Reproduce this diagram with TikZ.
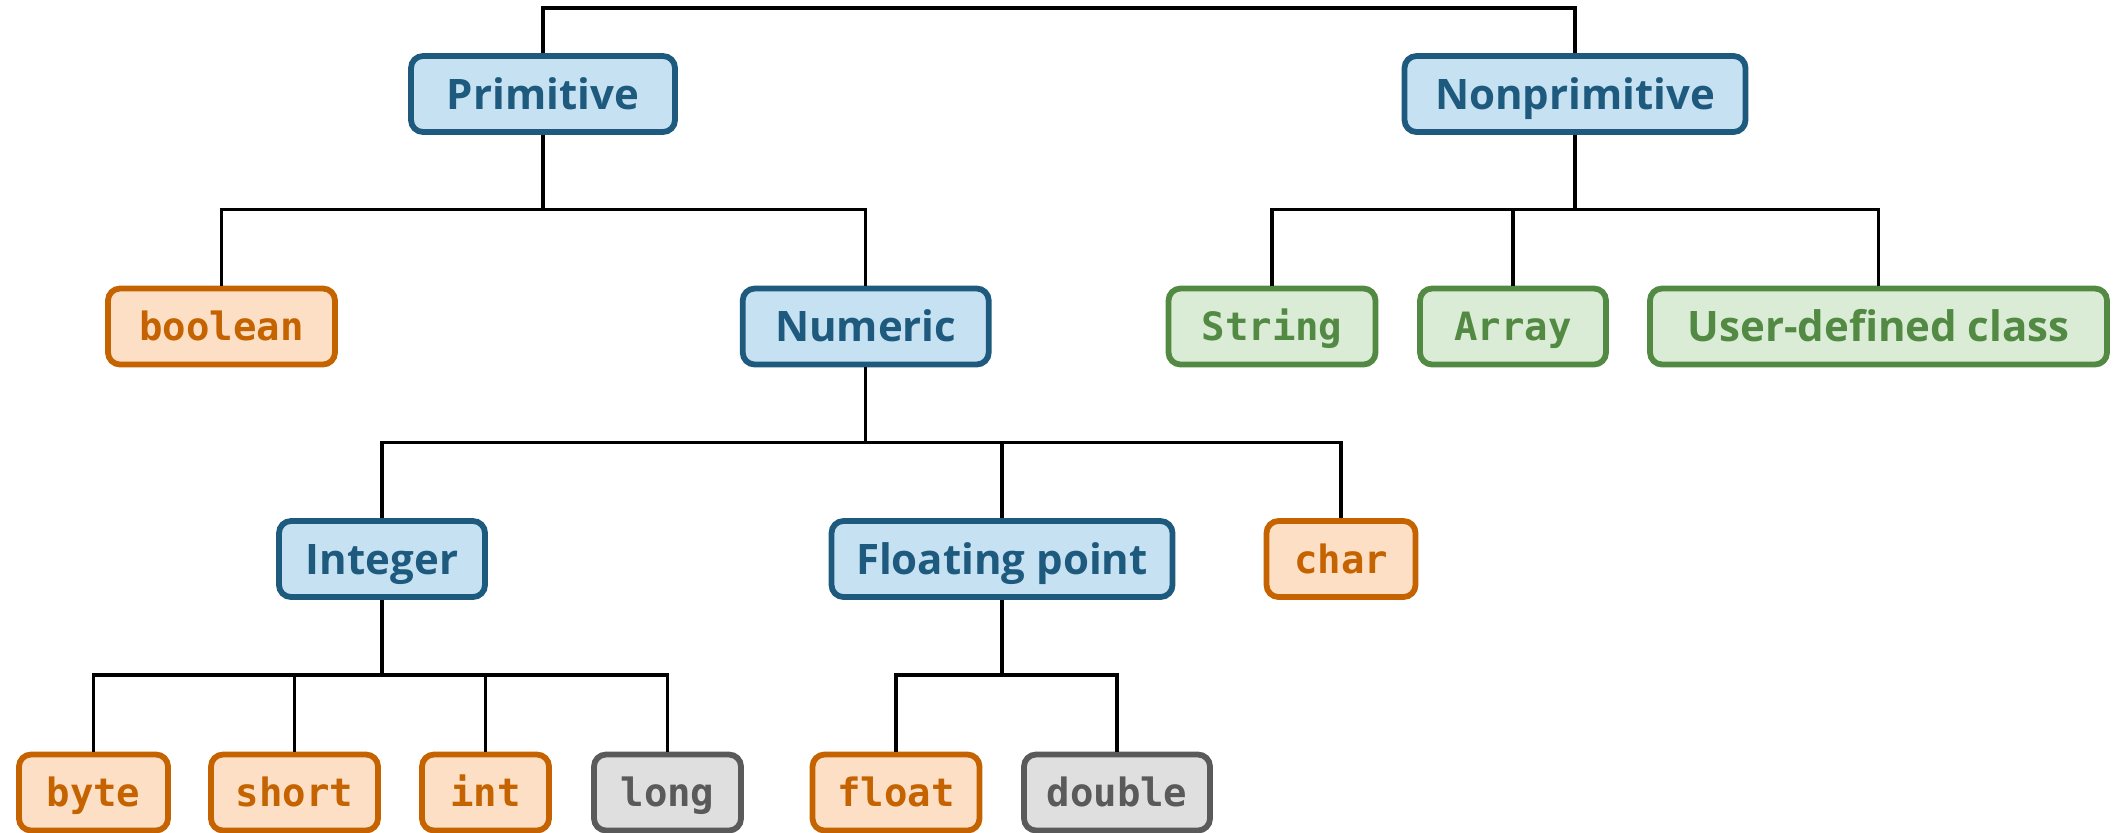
\documentclass[tikz,border=0pt]{standalone}
\usepackage{fontspec}
\setmainfont{Open Sans}
\newfontfamily\codefont{DejaVu Sans Mono}
\usetikzlibrary{calc}

\definecolor{catfill}{HTML}{C5E1F2}
\definecolor{catline}{HTML}{1E5A7D}
\definecolor{primfill}{HTML}{FCDFC4}
\definecolor{primline}{HTML}{C46300}
\definecolor{reffill}{HTML}{DAEBD6}
\definecolor{refline}{HTML}{528A44}
\definecolor{widefill}{HTML}{DFDFDF}
\definecolor{wideline}{HTML}{5A5A5A}

\tikzset{
  box/.style={rounded corners=6pt, line width=2.9pt, inner sep=0pt,
    minimum height=38pt, align=center, text depth=0pt},
  cat/.style={box, fill=catfill, draw=catline, text=catline,
    font=\fontsize{21}{25}\selectfont\bfseries, text height=15pt},
  code/.style={box, text height=14.2pt,
    font=\fontsize{19.5}{23}\selectfont\codefont\bfseries},
  prim/.style={code, fill=primfill, draw=primline, text=primline},
  refty/.style={code, fill=reffill, draw=refline, text=refline},
  wide/.style={code, fill=widefill, draw=wideline, text=wideline},
  reftext/.style={box, fill=reffill, draw=refline, text=refline,
    font=\fontsize{21}{25}\selectfont\bfseries, text height=15pt},
  link/.style={line width=1.6pt, black},
}

\begin{document}
\begin{tikzpicture}[x=0.5pt, y=-0.5pt]
  \useasboundingbox (0,0) rectangle (2119,832);

  % bar heights of the tree levels
  \coordinate (bar0) at (0,8);
  \coordinate (bar1) at (0,209.5);
  \coordinate (bar2) at (0,442.5);
  \coordinate (bar3) at (0,675);

  % level 1
  \node[cat, minimum width=132pt]   (prim)    at (543,94)   {Primitive};
  \node[cat, minimum width=170.5pt] (nonprim) at (1575,94)  {Nonprimitive};

  % level 2
  \node[prim, minimum width=113.5pt] (bool)   at (221.5,326.5) {boolean};
  \node[cat,  minimum width=123pt]   (num)    at (865.7,326.5) {Numeric};
  \node[refty, minimum width=103.5pt] (str)   at (1272,326.5)  {String};
  \node[refty, minimum width=93pt]    (arr)   at (1513,326.5)  {Array};
  \node[reftext, minimum width=228.5pt] (user) at (1878.5,326.5) {User-defined class};

  % level 3
  \node[cat, minimum width=103pt]   (integer) at (382,559)  {Integer};
  \node[cat, minimum width=170.5pt] (floatpt) at (1002,559) {Floating point};
  \node[prim, minimum width=74.5pt] (char)    at (1341,559) {char};

  % level 4
  \node[prim, minimum width=74.5pt] (byte)   at (93.5,792.5)  {byte};
  \node[prim, minimum width=83.5pt] (short)  at (294.5,792.5) {short};
  \node[prim, minimum width=63.5pt] (int)    at (485.5,792.5) {int};
  \node[wide, minimum width=73.5pt] (long)   at (667.5,792.5) {long};
  \node[prim, minimum width=83.5pt] (float)  at (896,792.5)   {float};
  \node[wide, minimum width=93pt]   (double) at (1117,792.5)  {double};

  % connectors
  \draw[link] (prim.north) -- (prim.north |- bar0) -| (nonprim.north);

  \draw[link] (prim.south) -- (prim.south |- bar1);
  \draw[link] (bool.north) |- (num.north |- bar1) -- (num.north);

  \draw[link] (nonprim.south) -- (nonprim.south |- bar1);
  \draw[link] (str.north) |- (user.north |- bar1) -- (user.north);
  \draw[link] (arr.north) -- (arr.north |- bar1);

  \draw[link] (num.south) -- (num.south |- bar2);
  \draw[link] (integer.north) |- (char.north |- bar2) -- (char.north);
  \draw[link] (floatpt.north) -- (floatpt.north |- bar2);

  \draw[link] (integer.south) -- (integer.south |- bar3);
  \draw[link] (byte.north) |- (long.north |- bar3) -- (long.north);
  \draw[link] (short.north) -- (short.north |- bar3);
  \draw[link] (int.north) -- (int.north |- bar3);

  \draw[link] (floatpt.south) -- (floatpt.south |- bar3);
  \draw[link] (float.north) |- (double.north |- bar3) -- (double.north);
\end{tikzpicture}
\end{document}
